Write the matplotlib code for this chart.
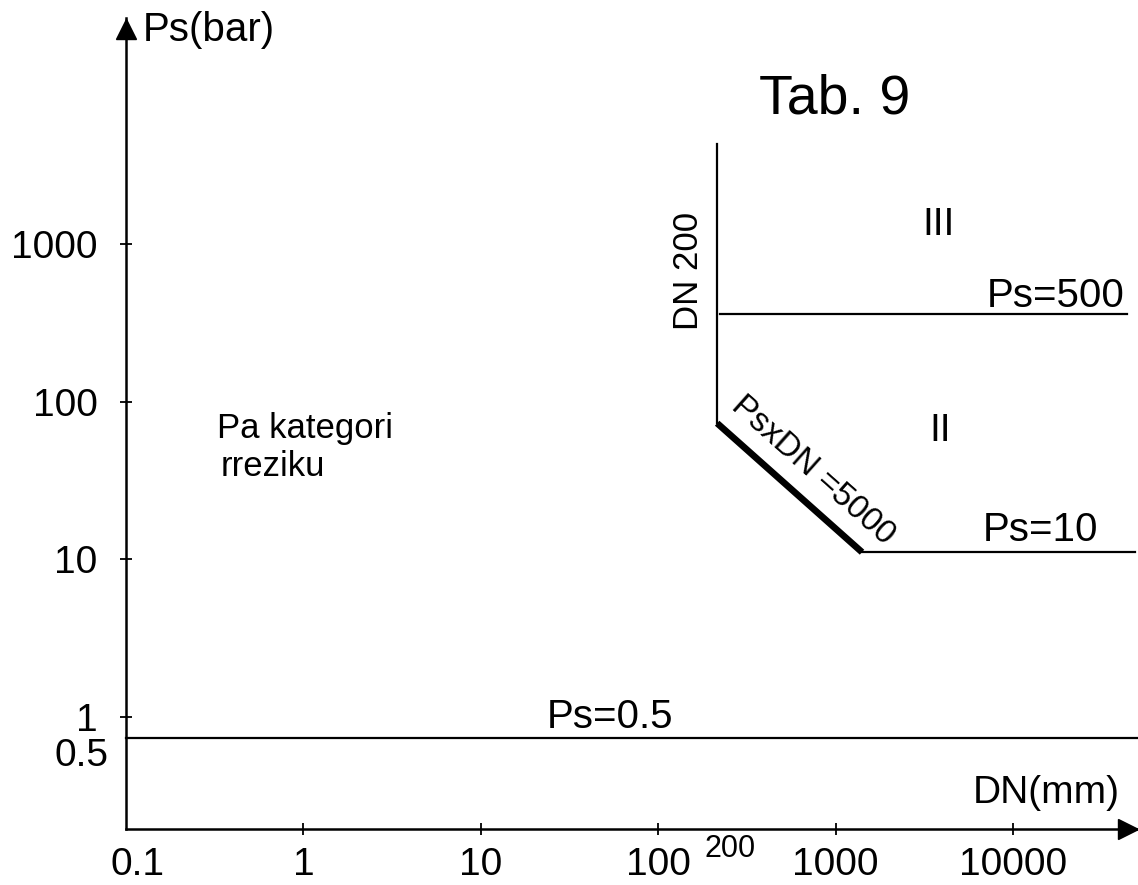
import matplotlib
matplotlib.use('Agg')
import matplotlib.pyplot as plt
import numpy as np

plt.rcParams['font.family'] = ['Liberation Sans', 'DejaVu Sans']

# axis ticks
dn_ticks = [1, 10, 100, 1000, 10000]
ps_ticks = [1, 10, 100, 1000]

# category boundaries, as drawn in the (not to scale) diagram
dn200_x = [215, 215]
dn200_y = [73, 4300]
psxdn_x = [215, 1410]
psxdn_y = [73, 11.1]
ps10_x = [1410, 48700]
ps10_y = [11.1, 11.1]
ps500_x = [224, 44000]
ps500_y = [360, 360]
ps05_x = [0.1, 50700]
ps05_y = [0.736, 0.736]

W, H = 1138, 885
fig = plt.figure(figsize=(W / 100, H / 100), dpi=100)
ax = fig.add_axes([126 / W, (H - 829) / H, (1138 - 126) / W, (829 - 18) / H])
ax.set_xscale('log')
ax.set_yscale('log')
ax.set_xlim(0.1, 10 ** 4.705)
ax.set_ylim(10 ** -0.7103, 10 ** 4.4333)

for s in ['top', 'right']:
    ax.spines[s].set_visible(False)
for s in ['left', 'bottom']:
    ax.spines[s].set_linewidth(1.8)

ax.set_xticks(dn_ticks)
ax.set_xticklabels([str(v) for v in dn_ticks])
ax.set_yticks(ps_ticks)
ax.set_yticklabels([str(v) for v in ps_ticks])
ax.minorticks_off()
ax.tick_params(axis='x', direction='inout', length=8, width=1.3, labelsize=28, pad=9)
ax.tick_params(axis='y', direction='inout', length=9, width=1.3, labelsize=28, pad=16)

# arrow heads
ax.plot([1 - 10.5 / 1012], [0], '>', ms=15, color='k', transform=ax.transAxes, clip_on=False)
ax.plot([0], [1 - 10.5 / 811], '^', ms=15, color='k', transform=ax.transAxes, clip_on=False)

ax.plot(dn200_x, dn200_y, color='k', lw=1.6)
ax.plot(psxdn_x, psxdn_y, color='k', lw=4.8, solid_capstyle='butt')
ax.plot(ps10_x, ps10_y, color='k', lw=1.6)
ax.plot(ps500_x, ps500_y, color='k', lw=1.6)
ax.plot(ps05_x, ps05_y, color='k', lw=1.6, clip_on=False)


def fx(px):
    return px / W


def fy(py):
    return 1 - py / H


fig.text(fx(143), fy(30), 'Ps(bar)', fontsize=29, ha='left', va='center')
fig.text(fx(1120), fy(793), 'DN(mm)', fontsize=28, ha='right', va='center')
fig.text(fx(835), fy(100), 'Tab. 9', fontsize=40, ha='center', va='center')
fig.text(fx(688), fy(271), 'DN 200', fontsize=25, ha='center', va='center', rotation=90)
fig.text(fx(938), fy(225), 'III', fontsize=28, ha='center', va='center')
fig.text(fx(940), fy(431), 'II', fontsize=28, ha='center', va='center')
fig.text(fx(1125), fy(296), 'Ps=500', fontsize=29, ha='right', va='center')
fig.text(fx(1098), fy(530), 'Ps=10', fontsize=29, ha='right', va='center')
fig.text(fx(610), fy(717), 'Ps=0.5', fontsize=29, ha='center', va='center')
fig.text(fx(813), fy(470), 'PsxDN =5000', fontsize=24, ha='center', va='center',
         rotation=-41.7, rotation_mode='anchor')
fig.text(fx(217), fy(428), 'Pa kategori', fontsize=25, ha='left', va='center')
fig.text(fx(221), fy(466), 'rreziku', fontsize=25, ha='left', va='center')
fig.text(fx(108), fy(756), '0.5', fontsize=28, ha='right', va='center')
fig.text(fx(138), fy(865), '0.1', fontsize=28, ha='center', va='center')
fig.text(fx(730), fy(849), '200', fontsize=22, ha='center', va='center')

fig.savefig('out.png', dpi=100)
